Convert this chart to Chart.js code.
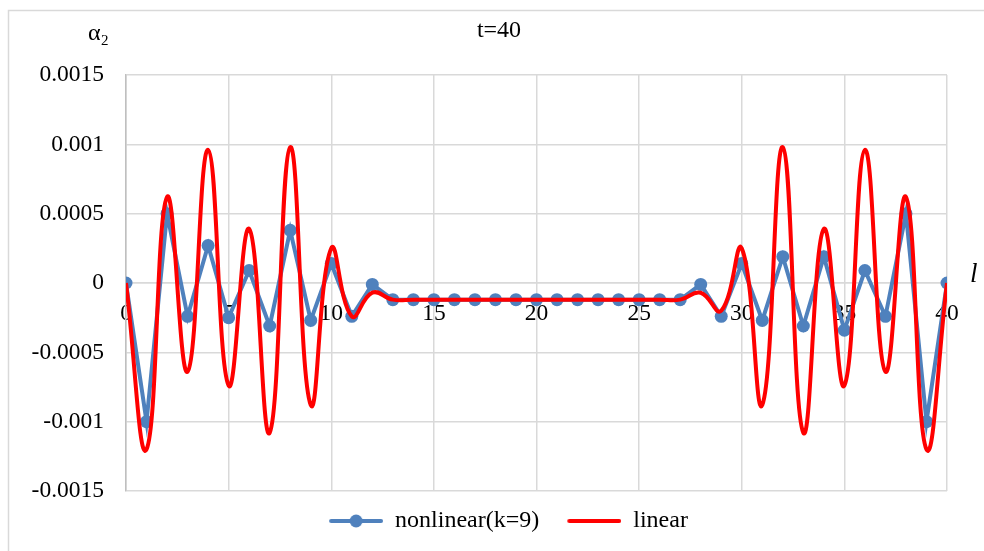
<!DOCTYPE html>
<html>
<head>
<meta charset="utf-8">
<script src="https://cdn.jsdelivr.net/npm/chart.js@4.4.0/dist/chart.umd.min.js"></script>
<style>
  html, body { margin: 0; padding: 0; background: #fff; }
  #wrap { width: 984px; height: 551px; position: relative; }
</style>
</head>
<body>
<div id="wrap"><canvas id="alphaChart"></canvas></div>
<script>
// positions along l
const positions = [0, 1, 2, 3, 4, 5, 6, 7, 8, 9, 10, 11, 12, 13, 14, 15, 16, 17, 18, 19, 20,
  21, 22, 23, 24, 25, 26, 27, 28, 29, 30, 31, 32, 33, 34, 35, 36, 37, 38, 39, 40];

// alpha_2 values
const nonlinearValues = [0, -0.001, 0.0005, -0.00024, 0.00027, -0.00025, 0.00009, -0.00031, 0.00038, -0.00027,
  0.00014, -0.00024, -0.00001, -0.00012, -0.00012, -0.00012, -0.00012, -0.00012, -0.00012, -0.00012,
  -0.00012, -0.00012, -0.00012, -0.00012, -0.00012, -0.00012, -0.00012, -0.00012, -0.00001, -0.00024,
  0.00014, -0.00027, 0.00019, -0.00031, 0.00019, -0.00034, 0.00009, -0.00024, 0.0005, -0.001, 0];

const linearValues = [0, -0.0012, 0.00062, -0.00064, 0.00096, -0.00074, 0.00039, -0.00108, 0.00098, -0.00088,
  0.00025, -0.00024, -0.00007, -0.00012, -0.00012, -0.00012, -0.00012, -0.00012, -0.00012, -0.00012,
  -0.00012, -0.00012, -0.00012, -0.00012, -0.00012, -0.00012, -0.00012, -0.00012, -0.00007, -0.0002,
  0.00025, -0.00088, 0.00098, -0.00108, 0.00039, -0.00074, 0.00096, -0.00064, 0.00062, -0.0012, 0];

const xTicks = [0, 5, 10, 15, 20, 25, 30, 35, 40];
const yTicks = [-0.0015, -0.001, -0.0005, 0, 0.0005, 0.001, 0.0015];
const yTickLabels = ['-0.0015', '-0.001', '-0.0005', '0', '0.0005', '0.001', '0.0015'];

const seriesNames = ['nonlinear(k=9)', 'linear'];
const titleText = 't=40';

const BLUE = '#4F81BD';
const RED = '#FF0000';
const GRID = '#D9D9D9';
const FONT = "'Liberation Serif', 'Times New Roman', serif";

// legend markers: line with a dot, and a plain line (blank on the left for spacing)
function legendMarker(color, withDot) {
  const c = document.createElement('canvas');
  c.width = 64; c.height = 16;
  const g = c.getContext('2d');
  g.strokeStyle = color;
  g.lineWidth = 4;
  g.lineCap = 'round';
  g.beginPath(); g.moveTo(12, 8); g.lineTo(62, 8); g.stroke();
  if (withDot) {
    g.fillStyle = color;
    g.beginPath(); g.arc(37, 8, 6.5, 0, Math.PI * 2); g.fill();
  }
  return c;
}
const markers = [legendMarker(BLUE, true), legendMarker(RED, false)];

// legend in the original sits a bit right of centre
const legendShift = {
  id: 'legendShift',
  afterLayout(chart) {
    if (chart.legend) chart.legend.left = 60;
  }
};

const decorations = {
  id: 'decorations',
  afterDraw(chart) {
    const ctx = chart.ctx;
    ctx.save();
    // outer frame
    ctx.strokeStyle = GRID;
    ctx.lineWidth = 1.5;
    ctx.strokeRect(8.5, 10.5, 990, 560);
    ctx.fillStyle = '#000';
    ctx.textBaseline = 'alphabetic';
    // title
    ctx.font = '24px ' + FONT;
    ctx.textAlign = 'center';
    ctx.fillText(titleText, 499, 37);
    // y axis name
    ctx.textAlign = 'left';
    ctx.fillText('\u03B1', 88, 40);
    ctx.font = '15px ' + FONT;
    ctx.fillText('2', 101, 45);
    // x axis name
    ctx.font = 'italic 27px ' + FONT;
    ctx.fillText('l', 970, 282);
    ctx.restore();
  }
};

new Chart(document.getElementById('alphaChart'), {
  type: 'line',
  data: {
    datasets: [
      {
        label: seriesNames[0],
        data: positions.map((x, i) => ({ x: x, y: nonlinearValues[i] })),
        borderColor: BLUE,
        backgroundColor: BLUE,
        borderWidth: 4,
        pointRadius: 6.5,
        pointBorderWidth: 0,
        pointBackgroundColor: BLUE,
        tension: 0,
        order: 2
      },
      {
        label: seriesNames[1],
        data: positions.map((x, i) => ({ x: x, y: linearValues[i] })),
        borderColor: RED,
        backgroundColor: RED,
        borderWidth: 4,
        pointRadius: 0,
        tension: 0.45,
        order: 1
      }
    ]
  },
  options: {
    responsive: true,
    maintainAspectRatio: false,
    animation: false,
    layout: { padding: { left: 0, right: 37, top: 75, bottom: 8 } },
    scales: {
      x: {
        type: 'linear',
        position: { y: 0 },
        min: 0,
        max: 40,
        afterBuildTicks: (scale) => { scale.ticks = xTicks.map(v => ({ value: v })); },
        grid: { color: GRID, lineWidth: 1.5, drawTicks: false },
        border: { color: GRID, width: 1.5 },
        ticks: { color: '#000', font: { family: FONT, size: 23.5 }, padding: 17, maxRotation: 0 }
      },
      y: {
        min: -0.0015,
        max: 0.0015,
        afterBuildTicks: (scale) => { scale.ticks = yTicks.map(v => ({ value: v })); },
        afterFit: (scale) => { scale.width = 126; },
        grid: { color: GRID, lineWidth: 1.5, drawTicks: false },
        border: { color: '#BFBFBF', width: 1.5 },
        ticks: {
          color: '#000',
          font: { family: FONT, size: 23.5 },
          padding: 22,
          callback: (value) => {
            const i = yTicks.findIndex(t => Math.abs(t - value) < 1e-9);
            return i >= 0 ? yTickLabels[i] : '';
          }
        }
      }
    },
    plugins: {
      tooltip: { enabled: false },
      legend: {
        position: 'bottom',
        labels: {
          color: '#000',
          font: { family: FONT, size: 24 },
          usePointStyle: true,
          pointStyleWidth: 64,
          padding: 18,
          sort: (a, b) => a.datasetIndex - b.datasetIndex,
          generateLabels: (chart) => {
            const items = Chart.defaults.plugins.legend.labels.generateLabels(chart);
            items.forEach(item => { item.pointStyle = markers[item.datasetIndex]; });
            return items;
          }
        }
      }
    }
  },
  plugins: [legendShift, decorations]
});
</script>
</body>
</html>
